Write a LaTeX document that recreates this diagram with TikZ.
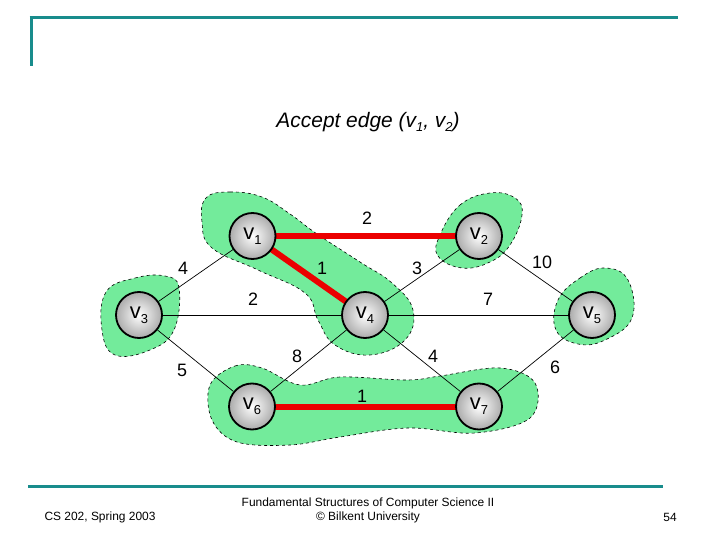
\documentclass[tikz,border=0pt]{standalone}
\usepackage{fontspec}
\setmainfont{Liberation Sans}
\definecolor{teal1}{RGB}{24,140,140}
\definecolor{blobgreen}{RGB}{115,235,155}
\definecolor{redE}{RGB}{235,0,0}
\tikzset{
  vert/.style={circle, draw=black, line width=1.8bp, minimum size=46bp, inner sep=0pt,
    inner color=white, outer color=black!33, font=\fontsize{22}{22}\selectfont},
  blob/.style={fill=blobgreen, draw=black, dashed, line width=0.6bp},
  edge/.style={draw=black, line width=0.7bp},
  redge/.style={draw=redE, line width=6bp},
  wlabel/.style={font=\fontsize{18}{18}\selectfont, inner sep=1pt},
  foot/.style={font=\fontsize{12}{14}\selectfont, align=center}
}
\pgfdeclarelayer{edgelayer}
\pgfsetlayers{edgelayer,main}
\newcommand{\vsub}[1]{v\raisebox{-0.4ex}{\fontsize{13}{13}\selectfont #1}}
\begin{document}
\begin{tikzpicture}[x=1bp,y=-1bp]
\useasboundingbox (0,0) rectangle (720,540);
% frame lines
\draw[teal1, line width=3bp] (29.5,18) -- (678,18);
\draw[teal1, line width=3bp] (31,16.5) -- (31,66);
\draw[teal1, line width=3bp] (28,486) -- (663,486);
% title
\node (title) at (368,122) {\fontsize{21}{24}\selectfont\itshape Accept edge (v\raisebox{-0.35ex}{\fontsize{13}{13}\selectfont 1}, v\raisebox{-0.35ex}{\fontsize{13}{13}\selectfont 2})};
% vertices
\node[vert] (v1) at (252.5,236) {\vsub{1}};
\node[vert] (v2) at (479,236) {\vsub{2}};
\node[vert] (v3) at (139,315) {\vsub{3}};
\node[vert] (v4) at (365,315) {\vsub{4}};
\node[vert] (v5) at (592,315) {\vsub{5}};
\node[vert] (v6) at (252,406.5) {\vsub{6}};
\node[vert] (v7) at (479,406.5) {\vsub{7}};
\begin{pgfonlayer}{edgelayer}
% blobs
\path[blob] plot[smooth cycle, tension=0.7] coordinates {(206,198) (230,192) (262,197) (290,214) (317,234) (360,262) (392,283) (413,310) (405,340) (370,355) (335,345) (318,320) (305,293) (258,270) (212,248) (202,222)};
\path[blob] plot[smooth cycle, tension=0.7] coordinates {(440,235) (460,205) (490,193) (515,198) (522,215) (510,245) (490,262) (462,268) (438,256)};
\path[blob] plot[smooth cycle, tension=0.7] coordinates {(106,292) (135,278) (165,276) (179,288) (174,330) (150,350) (115,355) (102,330)};
\path[blob] plot[smooth cycle, tension=0.7] coordinates {(558,300) (580,278) (605,268) (628,280) (632,318) (605,340) (578,344) (556,330)};
\path[blob] plot[smooth cycle, tension=0.6] coordinates {(210,385) (235,366) (262,368) (300,385) (340,377) (407,380) (440,376) (500,368) (535,383) (530,418) (475,433) (408,428) (340,437) (290,445) (237,442) (212,420)};
% edges
\path[edge] (v1) -- (v3);
\path[edge] (v2) -- (v4);
\path[edge] (v2) -- (v5);
\path[edge] (v3) -- (v4);
\path[edge] (v4) -- (v5);
\path[edge] (v3) -- (v6);
\path[edge] (v4) -- (v6);
\path[edge] (v4) -- (v7);
\path[edge] (v5) -- (v7);
\path[redge] (v1.center) -- (v2.center);
\path[redge] (v1.center) -- (v4.center);
\path[redge] (v6.center) -- (v7.center);
\end{pgfonlayer}
% weights
\node[wlabel] (w12) at (367,218) {2};
\node[wlabel] (w14) at (322,268) {1};
\node[wlabel] (w13) at (183,268) {4};
\node[wlabel] (w24) at (417,268) {3};
\node[wlabel] (w25) at (542,262) {10};
\node[wlabel] (w34) at (253,299) {2};
\node[wlabel] (w45) at (488,299) {7};
\node[wlabel] (w46) at (297,356) {8};
\node[wlabel] (w47) at (433,356) {4};
\node[wlabel] (w36) at (182,370) {5};
\node[wlabel] (w57) at (555,367) {6};
\node[wlabel] (w67) at (362,396) {1};
% footer
\node[foot] (f1) at (100,517) {CS 202, Spring 2003};
\node[foot] (f2) at (368,510) {Fundamental Structures of Computer Science II\\ © Bilkent University};
\node[foot] (f3) at (670,517) {54};
\end{tikzpicture}
\end{document}
